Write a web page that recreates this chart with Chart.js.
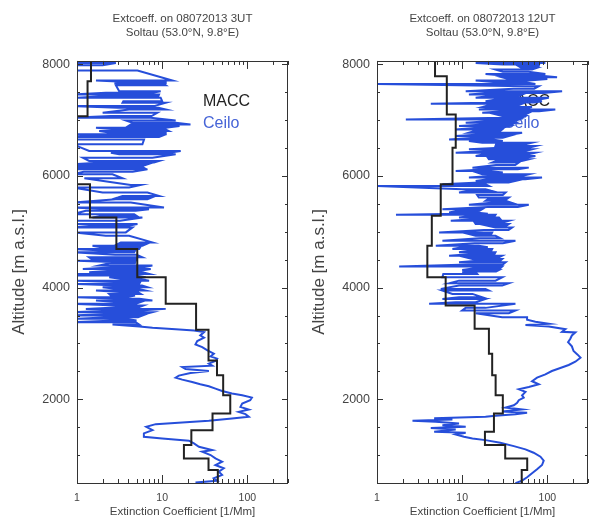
<!DOCTYPE html>
<html>
<head>
<meta charset="utf-8">
<script src="https://cdn.jsdelivr.net/npm/chart.js@4.4.1/dist/chart.umd.min.js"></script>
<style>
  html, body { margin: 0; padding: 0; background: #ffffff; }
  body { width: 589px; height: 519px; position: relative; overflow: hidden; }
  canvas { position: absolute; top: 0; }
  #c1 { left: 0; }
  #c2 { left: 300px; }
</style>
</head>
<body>
<canvas id="c1" width="300" height="519"></canvas>
<canvas id="c2" width="289" height="519"></canvas>
<script>
// ---------------- data ----------------
const titleLeft  = ["Extcoeff. on 08072013 3UT",  "Soltau (53.0°N, 9.8°E)"];
const titleRight = ["Extcoeff. on 08072013 12UT", "Soltau (53.0°N, 9.8°E)"];
const seriesNames = ["MACC", "Ceilo"];
const xTitle = "Extinction Coefficient [1/Mm]";
const yTitle = "Altitude [m a.s.l.]";

const xMajorTicks = [1, 10, 100];
const xMinorTicks = [2, 3, 4, 5, 6, 7, 8, 9, 20, 30, 40, 50, 60, 70, 80, 90, 200, 300];
const yMajorTicks = [2000, 4000, 6000, 8000];
const yMinorTicks = [1000, 1500, 2500, 3000, 3500, 4500, 5000, 5500, 6500, 7000, 7500];

// MACC model: layer boundaries [m] and extinction per layer [1/Mm]
const maccLeftBounds = [500, 732, 940, 1179, 1446, 1744, 2071, 2428, 2696, 3245, 3709, 4184, 4691, 5256, 5851, 7071, 7696, 8060];
const maccLeftExt    = [45, 35, 18, 22, 39, 63, 52, 44, 35, 25, 11, 5.1, 2.9, 1.42, 1.0, 1.33, 1.46];
const maccRightBounds = [500, 732, 940, 1179, 1417, 1744, 2071, 2428, 2815, 3262, 3679, 4184, 4750, 5286, 5851, 6505, 7101, 7786, 8060];
const maccRightExt    = [50, 58, 32, 18.5, 23.6, 30, 24.7, 22.5, 20.6, 14, 6.4, 3.9, 4.4, 5.6, 7.7, 8.4, 6.6, 4.8];

// Ceilometer, lower (smooth) part: altitude [m] and extinction [1/Mm]
const ceiloLeftAlt = [507, 542, 584, 644, 703, 763, 822, 882, 941, 1001, 1060, 1090, 1149, 1209, 1257, 1298, 1328, 1388, 1447, 1507, 1554, 1584, 1614, 1655, 1685, 1733, 1774, 1816, 1864, 1923, 1983, 2030, 2072, 2102, 2149, 2191, 2233, 2268, 2310, 2352, 2387, 2423, 2471, 2506, 2542, 2578, 2602, 2637, 2685, 2727, 2768, 2816, 2876, 2935, 2983, 3042, 3102, 3143, 3203, 3233, 3256, 3280, 3304];
const ceiloLeftExt = [24.6, 44.2, 40.4, 50.5, 46.2, 52.8, 42.2, 50.5, 42.2, 37, 29.5, 38.6, 27, 23.6, 20.6, 10, 6.1, 6.1, 7.7, 6.5, 8.4, 17.2, 35.3, 66, 104, 95, 79, 104, 83, 87, 108, 113, 87, 66, 50.5, 42.2, 35.3, 28, 22.5, 17.2, 14.4, 15.7, 21.5, 35.3, 18.8, 17.2, 38.6, 35.3, 42.2, 44.2, 37, 40.4, 34, 29.5, 24.6, 25.8, 31, 28, 31, 23.6, 14.4, 7.7, 5.4];

const ceiloRightAlt = [495, 542, 602, 673, 745, 822, 900, 971, 1042, 1102, 1161, 1221, 1268, 1298, 1328, 1370, 1400, 1417, 1459, 1483, 1507, 1536, 1566, 1596, 1614, 1637, 1661, 1685, 1703, 1733, 1757, 1780, 1816, 1852, 1893, 1935, 1983, 2030, 2072, 2132, 2179, 2221, 2268, 2322, 2387, 2447, 2506, 2560, 2614, 2673, 2745, 2804, 2864, 2947, 3024, 3084, 3143, 3197, 3209, 3256, 3304, 3328, 3352, 3387, 3423];
const ceiloRightExt = [42.2, 50.5, 57.8, 66.1, 75.7, 86.6, 90.6, 83, 69, 55.3, 40.4, 28, 18.8, 13.2, 10.5, 8.39, 11, 4.69, 8.39, 4.28, 11, 5.86, 9.18, 4.9, 2.61, 7.68, 4.69, 18.8, 24.6, 42.2, 57.8, 29.5, 50.5, 32.3, 40.4, 44.2, 46.2, 52.8, 50.5, 55.3, 46.2, 60.5, 79.2, 66.1, 75.7, 94.8, 113, 142, 178, 213, 245, 225, 203, 194, 175, 186, 194, 213, 149, 163, 104, 55.3, 104, 72.4, 57.8];

// Ceilometer, upper (noisy) part: each swing of the profile between a low and a high value
const swingLeftAlt = [3340, 3381, 3410, 3441, 3470, 3500, 3530, 3560, 3590, 3619, 3650, 3680, 3709, 3740, 3768, 3800, 3828, 3860, 3887, 3917, 3947, 3977, 4006, 4036, 4066, 4095, 4125, 4155, 4185, 4215, 4245, 4274, 4334, 4394, 4435, 4483, 4542, 4590, 4632, 4691, 4751, 4810, 4929, 4989, 5078, 5138, 5197, 5257, 5316, 5376, 5435, 5524, 5584, 5643, 5703, 5792, 5840, 5959, 6030, 6120, 6161, 6209, 6268, 6328, 6387, 6447, 6566, 6655, 6697, 6745, 6804, 6864, 6923, 6953, 6995, 7042, 7132, 7191, 7251, 7310, 7399, 7459, 7489, 7518, 7625, 7667, 7709, 7887, 7983, 8024];
const swingLeftLo  = [2.61, 0.9, 2.9, 0.9, 2.4, 0.9, 3.0, 0.9, 2.8, 1.27, 3.2, 2.9, 0.9, 3.0, 1.67, 3.3, 0.9, 2.5, 2.39, 3.5, 1.67, 3.0, 2.0, 3.2, 0.9, 3.3, 0.9, 3.4, 2.39, 0.9, 0.9, 1.39, 1.17, 1.82, 2.39, 0.9, 1.39, 2.8, 0.9, 0.9, 1.52, 3.27, 2.18, 0.9, 0.9, 0.9, 0.9, 1.52, 0.9, 1.27, 0.9, 0.9, 2.86, 3.42, 2.0, 0.9, 4.28, 1.22, 0.9, 0.9, 0.9, 0.9, 1.39, 1.17, 3.13, 1.39, 0.9, 0.9, 0.9, 0.9, 1.82, 1.67, 4.28, 4.48, 3.74, 0.9, 2.0, 4.09, 0.9, 3.42, 0.9, 0.9, 2.18, 3.13, 2.86, 2.75, 1.67, 0.9, 0.9, 0.9];
const swingLeftHi  = [5.36, 4.9, 5.0, 3.74, 5.2, 5.86, 6.5, 7.68, 5.5, 11, 5.3, 6.0, 4.9, 5.6, 7.68, 5.4, 3.74, 4.8, 5.61, 5.2, 6.41, 5.3, 6.71, 5.8, 5.36, 5.5, 7.02, 5.5, 6.41, 4.9, 7.02, 5.86, 7.34, 7.68, 4.9, 4.9, 5.86, 5.0, 4.69, 5.36, 5.86, 7.68, 4.09, 3.74, 4.48, 5.13, 3.2, 5.86, 4.69, 4.9, 10.5, 4.28, 6.71, 9.18, 6.71, 4.09, 5.61, 3.42, 2.61, 6.71, 5.86, 6.71, 9.18, 7.68, 14.4, 16.5, 5.86, 6.13, 9.18, 11, 12, 11, 21.5, 14.4, 14.4, 7.34, 8.78, 11, 8.03, 11, 9.6, 9.18, 7.68, 9.6, 11, 11, 13.2, 5.13, 2.0, 2.86];
// denser inner swings of the left profile
const swingLeftAlt2 = [4300, 4365, 4460, 4510, 4660, 4720, 4780, 5108, 5287, 5405, 5614, 6075, 6140, 6185, 6240, 6417, 6720, 6775, 6834, 6893, 7072, 7221, 7340, 7429, 7646, 7690];
const swingLeftLo2  = [2.5, 2.8, 2.6, 1.5, 2.4, 2.0, 3.0, 1.5, 2.0, 2.5, 3.0, 1.2, 1.0, 1.0, 2.0, 2.5, 1.5, 2.5, 3.0, 4.0, 2.5, 3.0, 3.5, 2.0, 3.5, 3.0];
const swingLeftHi2  = [5.5, 6.0, 4.8, 5.0, 4.8, 5.5, 6.5, 4.0, 5.0, 7.0, 7.5, 4.5, 6.2, 6.0, 8.0, 12, 10, 11, 11, 16, 7.5, 9.0, 10, 9.0, 10.5, 11];

const swingRightAlt = [3471, 3542, 3590, 3637, 3709, 3739, 3798, 3828, 3887, 3947, 3977, 4036, 4078, 4125, 4185, 4245, 4274, 4316, 4376, 4453, 4513, 4572, 4632, 4691, 4751, 4840, 4929, 4989, 5078, 5138, 5197, 5257, 5304, 5346, 5405, 5483, 5554, 5614, 5703, 5762, 5822, 5852, 5911, 5971, 6030, 6090, 6149, 6239, 6298, 6358, 6417, 6477, 6536, 6596, 6655, 6715, 6774, 6834, 6893, 6953, 7012, 7072, 7131, 7191, 7233, 7292, 7340, 7399, 7459, 7518, 7608, 7649, 7709, 7768, 7828, 7905, 7965, 8024];
const swingRightLo  = [29.5, 14.4, 10, 11, 4.09, 8.39, 5.86, 9.18, 7.68, 5.86, 5.61, 9.18, 7.02, 9.18, 5.86, 6.0, 10, 10, 1.82, 9.18, 13.2, 7.02, 9.18, 7.68, 4.9, 5.86, 14.4, 5.36, 24.6, 14.4, 7.34, 9.18, 1.67, 7.02, 5.86, 12, 18.8, 15.7, 9.18, 10, 0.9, 5.86, 14.4, 12, 17.2, 8.39, 13.2, 22.5, 20.6, 14.4, 8.39, 12, 24.6, 17.2, 7.02, 8.39, 12, 8.39, 9.18, 11, 2.18, 29.5, 17.2, 15.7, 17.2, 4.28, 18.8, 14.4, 12, 11, 55.3, 0.9, 14.4, 29.5, 18.8, 24.6, 46.2, 14.4];
const swingRightHi  = [57.8, 35.3, 42.2, 18.8, 42.2, 14.4, 18.8, 17.2, 13.2, 20.6, 18.8, 29.5, 35.3, 24.6, 29.5, 15.0, 14.4, 27, 29.5, 32.3, 29.5, 29.5, 24.6, 22.5, 15.7, 42.2, 24.6, 22.5, 38.6, 35.3, 35.3, 27, 24.6, 14.4, 17.2, 60.5, 32.3, 35.3, 32.3, 18.8, 20.6, 18.8, 42.2, 86.6, 60.5, 20.6, 60.5, 46.2, 60.5, 72.4, 72.4, 66.1, 72.4, 66.1, 22.5, 35.3, 50.5, 29.5, 35.3, 42.2, 46.2, 55.3, 60.5, 124, 66.1, 50.5, 86.6, 104, 50.5, 149, 79.2, 72.4, 60.5, 130, 94.8, 66.1, 79.2, 94.8];
// denser inner swings of the right profile
const swingRightAlt2 = [4290, 4345, 4415, 4483, 4542, 4602, 4661, 4721, 4795, 4885, 4959, 5033, 5108, 5167, 5227, 5280, 5325, 5375, 5444, 5518, 5584, 5658, 5733, 5881, 5941, 6000, 6060, 6119, 6194, 6268, 6328, 6388, 6447, 6506, 6566, 6625, 6685, 6745, 6804, 6864, 6923, 6982, 7042, 7101, 7161, 7212, 7262, 7316, 7370, 7429, 7488, 7563, 7679, 7738, 7798, 7866, 7935, 7995];
const swingRightLo2  = [12, 14, 12, 15, 11, 13, 12, 10, 14, 16, 12, 18, 20, 14, 15, 12, 10, 9, 20, 22, 20, 15, 12, 16, 20, 22, 15, 20, 25, 25, 20, 18, 20, 28, 25, 12, 14, 18, 14, 15, 18, 20, 30, 25, 30, 25, 20, 28, 25, 20, 20, 40, 25, 35, 30, 30, 50, 30];
const swingRightHi2  = [25, 28, 30, 28, 27, 24, 22, 20, 30, 28, 22, 35, 33, 30, 28, 24, 20, 16, 45, 38, 33, 30, 22, 35, 55, 50, 30, 45, 42, 50, 55, 60, 55, 60, 55, 30, 30, 40, 28, 30, 38, 40, 50, 55, 80, 55, 45, 70, 80, 45, 90, 70, 55, 100, 80, 60, 75, 80];

// ---------------- helpers ----------------
const FONT = "'Liberation Sans', Arial, Helvetica, sans-serif";
const BLUE = 'rgb(38, 78, 218)';
const BLACK = '#222222';
const TEXT = '#444444';

function stepPoints(bounds, vals) {
  const pts = [];
  for (let i = 0; i < vals.length; i++) {
    pts.push({x: vals[i], y: bounds[i]});
    pts.push({x: vals[i], y: bounds[i + 1]});
  }
  return pts;
}
function mergeSwings(a1, l1, h1, a2, l2, h2) {
  const rows = [];
  for (let i = 0; i < Math.min(a1.length, l1.length, h1.length); i++) rows.push([a1[i], l1[i], h1[i]]);
  for (let i = 0; i < Math.min(a2.length, l2.length, h2.length); i++) rows.push([a2[i], l2[i], h2[i]]);
  rows.sort((p, q) => p[0] - q[0]);
  return rows;
}
function profilePoints(alt, ext, rows, startHigh) {
  const pts = [];
  const n = Math.min(alt.length, ext.length);
  for (let i = 0; i < n; i++) pts.push({x: ext[i], y: alt[i]});
  rows.forEach((r, j) => {
    const hiFirst = (j % 2 === 0) === startHigh;
    if (hiFirst) { pts.push({x: r[2], y: r[0]}); pts.push({x: r[1], y: r[0]}); }
    else { pts.push({x: r[1], y: r[0]}); pts.push({x: r[2], y: r[0]}); }
  });
  return pts;
}

const frameTicks = {
  id: 'frameTicks',
  afterDatasetsDraw(chart) {
    const {ctx, chartArea: a, scales} = chart;
    const xs = scales.x, ys = scales.y;
    ctx.save();
    ctx.strokeStyle = '#333';
    ctx.lineWidth = 1;
    ctx.beginPath();
    const line = (x1, y1, x2, y2) => { ctx.moveTo(x1, y1); ctx.lineTo(x2, y2); };
    const tick = (v, len) => {
      const px = Math.round(xs.getPixelForValue(v)) + 0.5;
      line(px, a.bottom, px, a.bottom - len);
      line(px, a.top, px, a.top + len);
    };
    xMajorTicks.forEach(v => tick(v, 8));
    xMinorTicks.forEach(v => tick(v, 4));
    const ytick = (v, len) => {
      const py = Math.round(ys.getPixelForValue(v)) + 0.5;
      line(a.left, py, a.left + len, py);
      line(a.right, py, a.right - len, py);
    };
    yMajorTicks.forEach(v => ytick(v, 6));
    yMinorTicks.forEach(v => ytick(v, 3));
    ctx.stroke();
    ctx.strokeRect(Math.round(a.left) + 0.5, Math.round(a.top) + 0.5,
                   Math.round(a.right - a.left) - 1, Math.round(a.bottom - a.top));
    ctx.restore();
  }
};

const innerLegend = {
  id: 'innerLegend',
  beforeDatasetsDraw(chart) {
    const {ctx, chartArea: a} = chart;
    ctx.save();
    ctx.font = '16px ' + FONT;
    ctx.textBaseline = 'alphabetic';
    ctx.textAlign = 'left';
    const ds = chart.data.datasets;
    ctx.fillStyle = ds[0].borderColor;
    ctx.fillText(ds[0].label, a.left + 126, 106);
    ctx.fillStyle = 'rgb(70, 100, 215)';
    ctx.fillText(ds[1].label, a.left + 126, 128);
    ctx.restore();
  }
};

function makeChart(id, title, mBounds, mExt, cAlt, cExt, rows, startHigh, padRight) {
  return new Chart(document.getElementById(id), {
    type: 'scatter',
    data: {
      datasets: [
        { label: seriesNames[0], data: stepPoints(mBounds, mExt), showLine: true,
          borderColor: BLACK, borderWidth: 2, pointRadius: 0, fill: false, tension: 0 },
        { label: seriesNames[1], data: profilePoints(cAlt, cExt, rows, startHigh), showLine: true,
          borderColor: BLUE, borderWidth: 2, pointRadius: 0, fill: false, tension: 0 }
      ]
    },
    options: {
      responsive: false,
      animation: false,
      layout: { padding: { left: 0, right: padRight, top: 0, bottom: 0 } },
      plugins: {
        legend: { display: false },
        tooltip: { enabled: false },
        title: {
          display: true, text: title, fullSize: false, color: TEXT,
          font: { family: FONT, size: 11.5, weight: 'normal', lineHeight: 1.15 },
          padding: { top: 12.5, bottom: 22 }
        }
      },
      scales: {
        x: {
          type: 'logarithmic', position: 'bottom', min: 1, max: 300,
          afterBuildTicks: s => { s.ticks = xMajorTicks.map(v => ({value: v})); },
          afterFit: s => { s.height = 36; },
          grid: { display: false, drawTicks: false },
          border: { display: false },
          ticks: { color: TEXT, font: { family: FONT, size: 10.5 }, padding: 9, maxRotation: 0,
                   callback: v => String(v) },
          title: { display: true, text: xTitle, color: TEXT, font: { family: FONT, size: 11.5 },
                   padding: { top: 0, bottom: 0 } }
        },
        y: {
          type: 'linear', position: 'left', min: 500, max: 8060,
          afterBuildTicks: s => { s.ticks = yMajorTicks.map(v => ({value: v})); },
          afterFit: s => { s.width = 77; },
          grid: { display: false, drawTicks: false },
          border: { display: false },
          ticks: { color: TEXT, font: { family: FONT, size: 12.5 }, padding: 7,
                   callback: v => String(v) },
          title: { display: true, text: yTitle, color: TEXT, font: { family: FONT, size: 17 },
                   padding: { top: 9, bottom: 0 } }
        }
      }
    },
    plugins: [innerLegend, frameTicks]
  });
}

makeChart('c1', titleLeft, maccLeftBounds, maccLeftExt, ceiloLeftAlt, ceiloLeftExt,
          mergeSwings(swingLeftAlt, swingLeftLo, swingLeftHi, swingLeftAlt2, swingLeftLo2, swingLeftHi2), false, 12);
makeChart('c2', titleRight, maccRightBounds, maccRightExt, ceiloRightAlt, ceiloRightExt,
          mergeSwings(swingRightAlt, swingRightLo, swingRightHi, swingRightAlt2, swingRightLo2, swingRightHi2), true, 1);
</script>
</body>
</html>
